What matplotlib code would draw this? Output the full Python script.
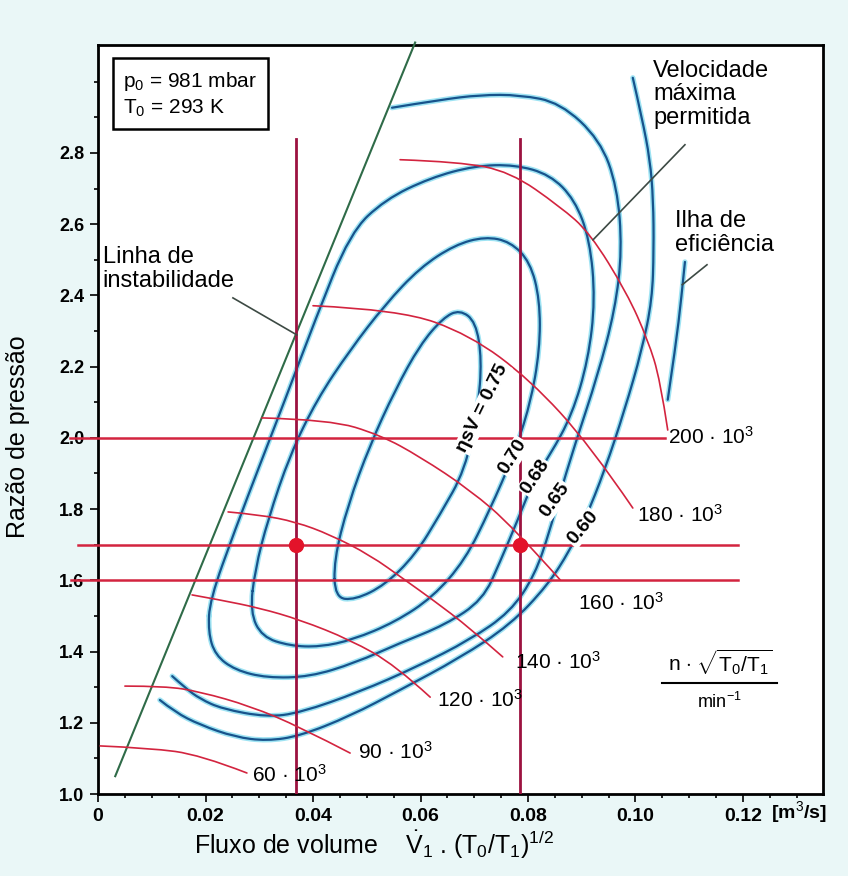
import matplotlib.pyplot as plt
from matplotlib.path import Path
from matplotlib.patches import PathPatch
import numpy as np

plt.rcParams['font.family'] = ['Liberation Sans', 'DejaVu Sans']
plt.rcParams['mathtext.fontset'] = 'custom'
plt.rcParams['mathtext.rm'] = 'Liberation Sans'
plt.rcParams['mathtext.it'] = 'Liberation Sans'
plt.rcParams['mathtext.bf'] = 'Liberation Sans:bold'

# constant speed lines  n*sqrt(T0/T1) [1/min]
speed_labels = ['60 · 10$^3$', '90 · 10$^3$', '120 · 10$^3$', '140 · 10$^3$',
                '160 · 10$^3$', '180 · 10$^3$', '200 · 10$^3$']
speed_x = [
    [0.0004, 0.0097, 0.0190, 0.0277],
    [0.0050, 0.0125, 0.0190, 0.0283, 0.0376, 0.0469],
    [0.0175, 0.0227, 0.0301, 0.0376, 0.0469, 0.0553, 0.0618],
    [0.0242, 0.0301, 0.0368, 0.0432, 0.0506, 0.0571, 0.0623, 0.0692, 0.0753],
    [0.0305, 0.0432, 0.0525, 0.0599, 0.0692, 0.0772, 0.0860],
    [0.0400, 0.0562, 0.0692, 0.0804, 0.0915, 0.0995],
    [0.0562, 0.0673, 0.0767, 0.0860, 0.0915, 0.0984, 0.1023, 0.1046, 0.1060],
]
speed_y = [
    [1.135, 1.129, 1.110, 1.059],
    [1.303, 1.303, 1.287, 1.247, 1.188, 1.115],
    [1.559, 1.545, 1.522, 1.489, 1.433, 1.362, 1.272],
    [1.792, 1.784, 1.764, 1.728, 1.671, 1.601, 1.545, 1.466, 1.385],
    [2.056, 2.051, 2.008, 1.947, 1.854, 1.750, 1.601],
    [2.371, 2.360, 2.289, 2.163, 1.980, 1.803],
    [2.781, 2.775, 2.747, 2.649, 2.576, 2.407, 2.275, 2.163, 2.022],
]
speed_lab_x = [0.0287, 0.0484, 0.0631, 0.0776, 0.0893, 0.1003, 0.1060]
speed_lab_y = [1.053, 1.118, 1.264, 1.371, 1.537, 1.784, 2.003]

# efficiency islands etaSV: 0.75, 0.70, 0.68 closed, 0.65 and 0.60 cut by the surge line
eta_labels = ['ηsV = 0.75', '0.70', '0.68', '0.65', '0.60']
eta_closed = [True, True, True, False, False]
eta_x = [
    [0.0441, 0.0478, 0.0534, 0.0590, 0.0636, 0.0683, 0.0707, 0.0714, 0.0703, 0.0673,
     0.0642, 0.0599, 0.0553, 0.0506, 0.0465, 0.0439],
    [0.0283, 0.0305, 0.0357, 0.0413, 0.0474, 0.0553, 0.0623, 0.0683, 0.0729, 0.0772,
     0.0804, 0.0822, 0.0822, 0.0804, 0.0767, 0.0720, 0.0664, 0.0599, 0.0534, 0.0469,
     0.0407, 0.0357, 0.0316, 0.0292],
    [0.0208, 0.0255, 0.0301, 0.0348, 0.0404, 0.0469, 0.0534, 0.0618, 0.0701, 0.0776,
     0.0841, 0.0887, 0.0915, 0.0925, 0.0912, 0.0882, 0.0841, 0.0813, 0.0781, 0.0748,
     0.0716, 0.0646, 0.0562, 0.0478, 0.0394, 0.0314, 0.0255, 0.0218, 0.0205],
    [0.0138, 0.0162, 0.0190, 0.0231, 0.0314, 0.0376, 0.0487, 0.0593, 0.0692, 0.0767,
     0.0813, 0.0841, 0.0856, 0.0887, 0.0930, 0.0962, 0.0975, 0.0966, 0.0934, 0.0860,
     0.0785, 0.0711, 0.0636, 0.0547],
    [0.0115, 0.0143, 0.0190, 0.0255, 0.0314, 0.0376, 0.0469, 0.0562, 0.0673, 0.0767,
     0.0837, 0.0878, 0.0906, 0.0943, 0.0980, 0.1012, 0.1031, 0.1034, 0.1033, 0.1027,
     0.1012, 0.0995],
]
eta_y = [
    [1.551, 1.545, 1.587, 1.671, 1.784, 1.910, 2.084, 2.219, 2.326, 2.360,
     2.337, 2.261, 2.135, 1.980, 1.812, 1.657],
    [1.511, 1.441, 1.416, 1.413, 1.433, 1.483, 1.553, 1.657, 1.798, 1.947,
     2.093, 2.247, 2.388, 2.494, 2.551, 2.565, 2.542, 2.478, 2.374, 2.247,
     2.107, 1.952, 1.770, 1.629],
    [1.545, 1.742, 1.924, 2.107, 2.331, 2.576, 2.669, 2.730, 2.764, 2.767,
     2.739, 2.669, 2.556, 2.388, 2.219, 2.065, 1.952, 1.890, 1.770, 1.652,
     1.545, 1.475, 1.424, 1.368, 1.329, 1.326, 1.348, 1.390, 1.455],
    [1.331, 1.298, 1.267, 1.239, 1.216, 1.228, 1.287, 1.357, 1.433, 1.511,
     1.615, 1.742, 1.826, 1.980, 2.177, 2.360, 2.528, 2.705, 2.837, 2.941,
     2.963, 2.963, 2.949, 2.927],
    [1.264, 1.230, 1.194, 1.160, 1.149, 1.163, 1.219, 1.292, 1.382, 1.475,
     1.587, 1.685, 1.770, 1.910, 2.079, 2.247, 2.388, 2.528, 2.669, 2.781,
     2.899, 3.011],
]
eta_lab_x = [0.0716, 0.0772, 0.0813, 0.0850, 0.0902]
eta_lab_y = [2.084, 1.947, 1.890, 1.826, 1.747]
eta_lab_rot = [64, 58, 56, 54, 50]

# small island piece on the right
isle_x = [0.1092, 0.1085, 0.1075, 0.1060]
isle_y = [2.494, 2.388, 2.261, 2.107]

# surge (instability) line
surge_x = [0.0032, 0.0590]
surge_y = [1.05, 3.11]

# operating points
op_flow = [0.0368, 0.0785]
op_ratio = [2.0, 1.7, 1.6]

RED = '#d3243f'
DRED = '#9c1240'
BLUE = '#17538c'
HALO = '#9ee3f3'


def smooth_path(xs, ys, closed=False):
    # quadratic curve using the read points as control points
    pts = list(zip(xs, ys))
    mid = lambda a, b: ((a[0] + b[0]) / 2, (a[1] + b[1]) / 2)
    verts, codes = [], []
    n = len(pts)
    if closed:
        verts.append(mid(pts[-1], pts[0]))
        codes.append(Path.MOVETO)
        for i in range(n):
            verts += [pts[i], mid(pts[i], pts[(i + 1) % n])]
            codes += [Path.CURVE3, Path.CURVE3]
    else:
        verts.append(pts[0])
        codes.append(Path.MOVETO)
        for i in range(1, n - 1):
            end = pts[n - 1] if i == n - 2 else mid(pts[i], pts[i + 1])
            verts += [pts[i], end]
            codes += [Path.CURVE3, Path.CURVE3]
        if n == 2:
            verts.append(pts[1])
            codes.append(Path.LINETO)
    return Path(verts, codes)


def draw_curve(ax, path, color, lw, halo=None, z=2):
    if halo:
        ax.add_patch(PathPatch(path, fill=False, ec=halo, lw=lw + 2.2, zorder=z,
                               capstyle='round', joinstyle='round'))
    ax.add_patch(PathPatch(path, fill=False, ec=color, lw=lw, zorder=z + 0.1,
                           capstyle='round', joinstyle='round'))


fig = plt.figure(figsize=(8.48, 8.76), dpi=100, facecolor='#eaf7f7')
ax = fig.add_axes([0.1156, 0.0936, 0.8550, 0.8550])
ax.set_xlim(0, 0.1349)
ax.set_ylim(1.0, 3.103)

for xs, ys, c in zip(eta_x, eta_y, eta_closed):
    draw_curve(ax, smooth_path(xs, ys, closed=c), BLUE, 1.6, HALO)
draw_curve(ax, smooth_path(isle_x, isle_y), BLUE, 1.6, HALO)

for xs, ys in zip(speed_x, speed_y):
    draw_curve(ax, smooth_path(xs, ys), RED, 1.2, z=3)

ax.plot(surge_x, surge_y, color='#2f6b48', lw=1.5, clip_on=False, zorder=3)

ax.plot([-0.0052, 0.1055], [op_ratio[0]] * 2, color=RED, lw=1.8, clip_on=False, zorder=3)
ax.plot([-0.0037, 0.1191], [op_ratio[1]] * 2, color=RED, lw=1.8, clip_on=False, zorder=3)
ax.plot([-0.0050, 0.1191], [op_ratio[2]] * 2, color=RED, lw=1.8, clip_on=False, zorder=3)
for x in op_flow:
    ax.plot([x, x], [1.0, 2.84], color=DRED, lw=2, zorder=3)
ax.plot(op_flow, [op_ratio[1]] * 2, 'o', color='#e3132a', ms=10, zorder=5)

for x, y, t in zip(speed_lab_x, speed_lab_y, speed_labels):
    ax.text(x, y, t, fontsize=15, va='center', ha='left')

for x, y, t, r in zip(eta_lab_x, eta_lab_y, eta_labels, eta_lab_rot):
    ax.text(x, y, t, fontsize=14, fontweight='bold', rotation=r, zorder=4,
            ha='center', va='center', rotation_mode='anchor',
            bbox=dict(boxstyle='square,pad=0.05', fc='white', ec='none'))

ax.set_xticks(np.arange(0, 0.121, 0.02))
ax.set_xticklabels(['0', '0.02', '0.04', '0.06', '0.08', '0.10', '0.12'],
                   fontweight='bold', fontsize=14)
ax.set_xticks(np.arange(0, 0.134, 0.005), minor=True)
ax.set_yticks(np.arange(1.0, 2.81, 0.2))
ax.set_yticklabels(['1.0', '1.2', '1.4', '1.6', '1.8', '2.0', '2.2', '2.4', '2.6', '2.8'],
                   fontweight='bold', fontsize=13)
ax.set_yticks(np.arange(1.0, 3.05, 0.1), minor=True)
ax.tick_params(which='both', direction='out', width=1.2)
ax.tick_params(which='major', length=6, pad=4)
ax.tick_params(which='minor', length=3)
for s in ax.spines.values():
    s.set_linewidth(2)

ax.text(1.005, -0.024, '[m$^3$/s]', transform=ax.transAxes, fontsize=14,
        ha='right', va='center', fontweight='bold')
ax.set_ylabel('Razão de pressão', fontsize=18)
ax.yaxis.set_label_coords(-0.094, 0.477)
fig.text(0.441, 0.0354, r'Fluxo de volume    $\dot{V}_1$ . $(T_0/T_1)^{1/2}$',
         fontsize=18, ha='center', va='center')

ax.text(0.0047, 3.034, 'p$_0$ = 981 mbar\nT$_0$ = 293 K', fontsize=15, va='top',
        linespacing=1.3,
        bbox=dict(boxstyle='square,pad=0.5', fc='white', ec='black', lw=1.8))
ax.text(0.1033, 3.062, 'Velocidade\nmáxima\npermitida', fontsize=17, va='top', linespacing=1.1)
ax.text(0.1073, 2.640, 'Ilha de\neficiência', fontsize=17, va='top', linespacing=1.1)
ax.text(0.0009, 2.539, 'Linha de\ninstabilidade', fontsize=17, va='top', linespacing=1.1)
lead = '#3d4a44'
ax.plot([0.0251, 0.0370], [2.393, 2.289], color=lead, lw=1.2, zorder=4)
ax.plot([0.1092, 0.0921], [2.823, 2.556], color=lead, lw=1.2, zorder=4)
ax.plot([0.1133, 0.1087], [2.486, 2.430], color=lead, lw=1.2, zorder=4)

# reduced speed unit
ax.text(0.1157, 1.371, r'n $\cdot$ $\sqrt{\mathrm{T_0/T_1}}$', fontsize=15, ha='center', va='center')
ax.plot([0.1049, 0.1263], [1.312, 1.312], color='black', lw=1.5)
ax.text(0.1157, 1.258, 'min$^{-1}$', fontsize=13, ha='center', va='center')

fig.savefig('out.png', dpi=100, facecolor=fig.get_facecolor())
